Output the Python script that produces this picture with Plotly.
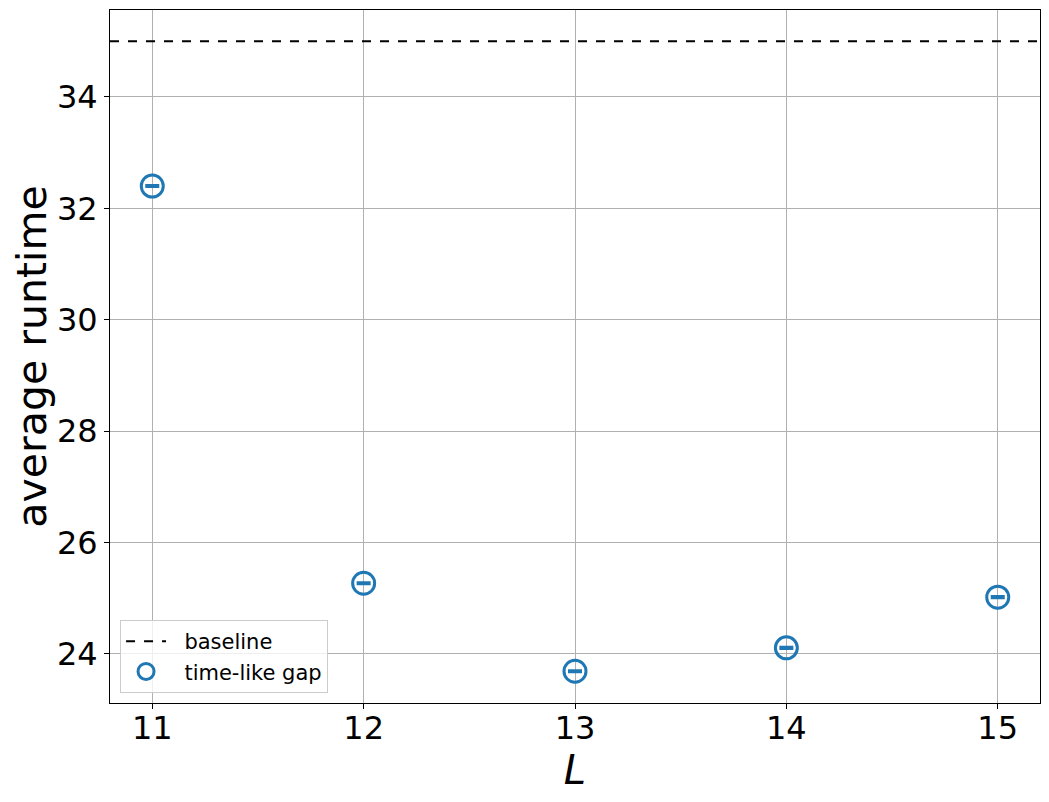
import plotly.graph_objects as go

L_values = [11, 12, 13, 14, 15]
avg_runtime = [32.40, 25.27, 23.69, 24.11, 25.02]
runtime_err = [0.01, 0.01, 0.01, 0.01, 0.01]
baseline = 35.0

blue = "#1f77b4"
font = "DejaVu Sans"

fig = go.Figure()

fig.add_hline(
    y=baseline, line=dict(color="black", dash="dash", width=2),
    showlegend=True, name="&nbsp;&nbsp;baseline", legendrank=1,
)

fig.add_trace(go.Scatter(
    x=L_values, y=avg_runtime, mode="markers", name="&nbsp;&nbsp;time-like gap",
    legendrank=2,
    marker=dict(symbol="circle-open", size=22, color=blue, line=dict(width=3, color=blue)),
    error_y=dict(type="data", array=runtime_err, visible=True,
                 color=blue, thickness=3, width=7),
))

axis_common = dict(
    showline=True, linecolor="black", linewidth=1, mirror=True,
    ticks="outside", ticklen=5, tickcolor="black",
    showgrid=True, gridcolor="#b0b0b0", gridwidth=1,
    zeroline=False, automargin=False,
    tickfont=dict(family=font, size=32, color="black"),
)

fig.update_xaxes(
    range=[10.8, 15.2], tickvals=L_values,
    title=dict(text="<i>L</i>", font=dict(family=font, size=40, color="black"), standoff=2),
    ticklabelstandoff=-8,
    **axis_common,
)
fig.update_yaxes(
    range=[23.12, 35.56], tickvals=[24, 26, 28, 30, 32, 34],
    title=dict(text="average runtime", font=dict(family=font, size=41, color="black"), standoff=10),
    **axis_common,
)

# page body has an 8px margin, so the margins here are offset by that
fig.update_layout(
    width=1049, height=802,
    margin=dict(l=102, r=17, t=2, b=107),
    plot_bgcolor="white", paper_bgcolor="white",
    font=dict(family=font),
    legend=dict(
        x=0.0108, y=0.0144, xanchor="left", yanchor="bottom",
        bgcolor="rgba(255,255,255,0.8)", bordercolor="#cccccc", borderwidth=1,
        font=dict(family=font, size=21, color="black"),
        traceorder="normal", itemwidth=40,
    ),
)

fig.write_html("out.html")
